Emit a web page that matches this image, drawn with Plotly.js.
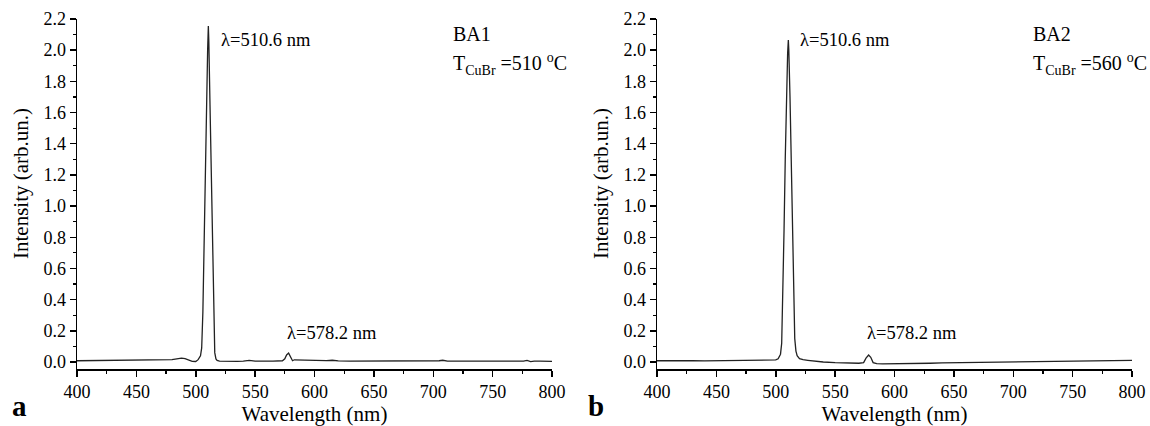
<!DOCTYPE html>
<html>
<head>
<meta charset="utf-8">
<script src="https://cdn.plot.ly/plotly-3.0.1.min.js"></script>
<style>html,body{margin:0;padding:0;background:#fff;}#chart{width:1150px;height:426px;}</style>
</head>
<body>
<div id="chart"></div>
<script>
// Panel a (BA1, T_CuBr = 510 °C)
const wavelengthA = [400,410,420,430,440,450,460,470,480,484,488,491,494,497,500,502,504,505,506,507,508,509,510,510.6,511,512,513,514,515,516,517,518,520,525,530,535,540,545,550,555,560,565,570,573,575,576.5,578.2,580,581.5,583,586,590,595,600,605,610,615,620,630,640,650,660,670,680,690,700,705,708,712,720,730,740,750,760,770,776,779,782,785,790,800];
const intensityA  = [0.008,0.009,0.007,0.010,0.012,0.012,0.013,0.012,0.015,0.020,0.025,0.022,0.014,0.004,0.003,0.015,0.040,0.090,0.320,0.780,1.250,1.650,2.000,2.155,2.060,1.650,1.200,0.700,0.250,0.060,0.020,0.010,0.005,0.004,0.005,0.004,0.006,0.010,0.006,0.004,0.005,0.006,0.006,0.008,0.020,0.045,0.057,0.035,0.008,0.014,0.013,0.012,0.010,0.008,0.009,0.009,0.011,0.007,0.006,0.006,0.005,0.006,0.005,0.006,0.005,0.006,0.008,0.011,0.006,0.005,0.004,0.005,0.005,0.004,0.005,0.006,0.010,0.003,0.006,0.005,0.004];

// Panel b (BA2, T_CuBr = 560 °C)
const wavelengthB = [400,410,420,430,440,450,460,470,480,490,497,500,502,504,505,506,507,508,509,510,510.6,511,512,513,514,515,516,517,518,520,523,527,530,535,540,550,560,570,574,576,578.2,580,582,585,590,600,610,620,630,640,650,660,670,680,690,700,705,710,720,730,740,750,760,770,780,790,800];
const intensityB  = [0.008,0.009,0.010,0.008,0.007,0.008,0.007,0.006,0.007,0.008,0.010,0.013,0.020,0.050,0.120,0.400,0.850,1.300,1.700,1.980,2.065,2.000,1.700,1.250,0.800,0.400,0.150,0.070,0.040,0.022,0.015,0.011,0.008,0.004,0.000,-0.004,-0.007,-0.008,-0.004,0.025,0.045,0.030,-0.004,-0.011,-0.012,-0.012,-0.011,-0.010,-0.008,-0.006,-0.005,-0.003,-0.002,0.000,0.001,-0.001,0.002,0.003,0.003,0.004,0.006,0.007,0.006,0.008,0.009,0.009,0.010];

const xTitle = 'Wavelength (nm)';
const yTitle = 'Intensity (arb.un.)';

const SERIF = '"Liberation Serif", "Times New Roman", Times, serif';
const tickFont = {family: SERIF, size: 18, color: '#000'};
const titleFont = {family: SERIF, size: 21, color: '#000'};
const annFont = {family: SERIF, size: 18.5, color: '#000'};
const bigFont = {family: SERIF, size: 20, color: '#000'};

function xaxisDef(domain) {
  return {
    domain: domain, range: [400, 800], dtick: 50, tick0: 400,
    showgrid: false, zeroline: false, showline: true, linecolor: '#000', linewidth: 1.5,
    ticks: 'outside', ticklen: 6, tickwidth: 1.5, tickcolor: '#000', tickfont: tickFont,
    minor: {dtick: 25, ticks: 'outside', ticklen: 3, tickwidth: 1.2, tickcolor: '#000', showgrid: false},
    title: {text: xTitle, font: titleFont, standoff: 3},
    automargin: false, fixedrange: true
  };
}
function yaxisDef(anchor) {
  return {
    anchor: anchor, domain: [0.1338, 0.9554], range: [-0.045, 2.2], dtick: 0.2, tick0: 0,
    tickformat: '.1f',
    showgrid: false, zeroline: false, showline: true, linecolor: '#000', linewidth: 1.5,
    ticks: 'outside', ticklen: 6, tickwidth: 1.5, tickcolor: '#000', tickfont: tickFont,
    minor: {dtick: 0.1, ticks: 'outside', ticklen: 3, tickwidth: 1.2, tickcolor: '#000', showgrid: false},
    automargin: false, fixedrange: true
  };
}

const traces = [
  {x: wavelengthA, y: intensityA, type: 'scatter', mode: 'lines', xaxis: 'x', yaxis: 'y',
   line: {color: '#222', width: 1.3}, showlegend: false, hoverinfo: 'skip'},
  {x: wavelengthB, y: intensityB, type: 'scatter', mode: 'lines', xaxis: 'x2', yaxis: 'y2',
   line: {color: '#222', width: 1.3}, showlegend: false, hoverinfo: 'skip'}
];

function px(xp) { return xp / 1150; }
function py(yp) { return 1 - yp / 426; }

const annotations = [
  {xref: 'paper', yref: 'paper', x: px(21), y: py(184), xanchor: 'center', yanchor: 'middle', textangle: -90, text: yTitle, showarrow: false, font: titleFont},
  {xref: 'paper', yref: 'paper', x: px(601), y: py(184), xanchor: 'center', yanchor: 'middle', textangle: -90, text: yTitle, showarrow: false, font: titleFont},
  {xref: 'paper', yref: 'paper', x: px(219), y: py(40), xanchor: 'left', yanchor: 'middle', text: 'λ=510.6 nm', showarrow: false, font: annFont},
  {xref: 'paper', yref: 'paper', x: px(798), y: py(40), xanchor: 'left', yanchor: 'middle', text: 'λ=510.6 nm', showarrow: false, font: annFont},
  {xref: 'paper', yref: 'paper', x: px(285), y: py(333), xanchor: 'left', yanchor: 'middle', text: 'λ=578.2 nm', showarrow: false, font: annFont},
  {xref: 'paper', yref: 'paper', x: px(865), y: py(333), xanchor: 'left', yanchor: 'middle', text: 'λ=578.2 nm', showarrow: false, font: annFont},
  {xref: 'paper', yref: 'paper', x: px(451), y: py(34), xanchor: 'left', yanchor: 'middle', text: 'BA1', showarrow: false, font: bigFont},
  {xref: 'paper', yref: 'paper', x: px(1031), y: py(34), xanchor: 'left', yanchor: 'middle', text: 'BA2', showarrow: false, font: bigFont},
  {xref: 'paper', yref: 'paper', x: px(451), y: py(64), xanchor: 'left', yanchor: 'middle', text: 'T<sub>CuBr</sub> =510 <sup>o</sup>C', showarrow: false, font: bigFont},
  {xref: 'paper', yref: 'paper', x: px(1031), y: py(64), xanchor: 'left', yanchor: 'middle', text: 'T<sub>CuBr</sub> =560 <sup>o</sup>C', showarrow: false, font: bigFont},
  {xref: 'paper', yref: 'paper', x: px(10), y: py(406), xanchor: 'left', yanchor: 'middle', text: '<b>a</b>', showarrow: false, font: {family: SERIF, size: 29, color: '#000'}},
  {xref: 'paper', yref: 'paper', x: px(586), y: py(406), xanchor: 'left', yanchor: 'middle', text: '<b>b</b>', showarrow: false, font: {family: SERIF, size: 29, color: '#000'}}
];

const layout = {
  width: 1150, height: 426,
  margin: {l: 0, r: 0, t: 0, b: 0},
  paper_bgcolor: '#fff', plot_bgcolor: '#fff',
  font: {family: SERIF, color: '#000'},
  xaxis: Object.assign(xaxisDef([77/1150, 552/1150]), {anchor: 'y'}),
  yaxis: yaxisDef('x'),
  xaxis2: Object.assign(xaxisDef([657/1150, 1132/1150]), {anchor: 'y2'}),
  yaxis2: yaxisDef('x2'),
  annotations: annotations,
  showlegend: false
};

Plotly.newPlot('chart', traces, layout, {staticPlot: true, displayModeBar: false});
</script>
</body>
</html>
